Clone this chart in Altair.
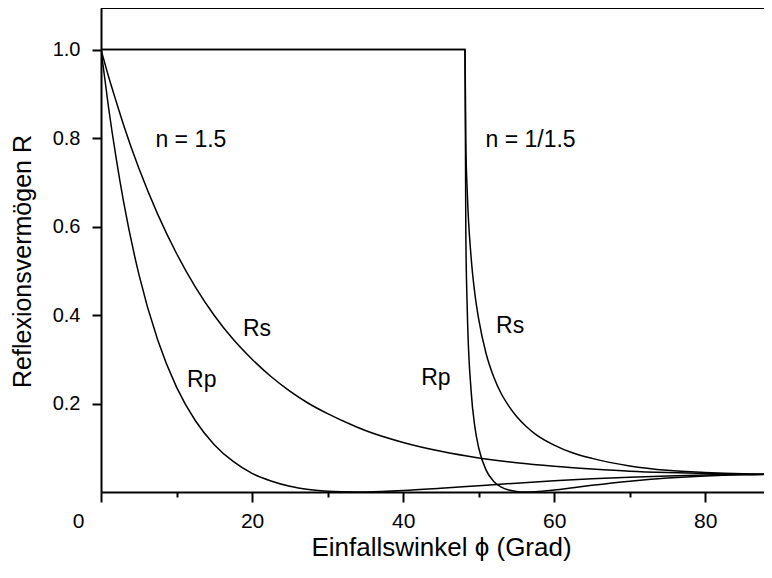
import altair as alt
import pandas as pd

# Angle axis values (degrees) and reflectance values
ext_x = [0, 1, 2, 3, 5, 7.5, 10, 12.5, 15, 17.5, 20, 22.5, 25, 27.5, 30, 33.7,
         35, 40, 45, 50, 55, 60, 65, 70, 75, 80, 85, 90]
ext_rs = [1.0, 0.939, 0.883, 0.829, 0.732, 0.628, 0.539, 0.463, 0.399, 0.345,
          0.300, 0.261, 0.228, 0.200, 0.177, 0.148, 0.139, 0.112, 0.092, 0.077,
          0.066, 0.058, 0.052, 0.047, 0.044, 0.042, 0.040, 0.040]
ext_rp = [1.0, 0.869, 0.755, 0.655, 0.493, 0.344, 0.237, 0.161, 0.107, 0.069,
          0.042, 0.025, 0.013, 0.0058, 0.0018, 0.0, 0.0002, 0.0033, 0.0085,
          0.0143, 0.0200, 0.0252, 0.0297, 0.0335, 0.0363, 0.0384, 0.0396, 0.040]

int_x = [0, 48.19, 48.3, 48.5, 49, 49.5, 50, 51, 52, 53, 54, 55, 56.3, 57.5,
         60, 62.5, 65, 70, 75, 80, 85, 90]
int_rs = [1.0, 1.0, 0.791, 0.675, 0.531, 0.448, 0.391, 0.312, 0.260, 0.222,
          0.194, 0.171, 0.148, 0.131, 0.106, 0.088, 0.076, 0.059, 0.049, 0.044,
          0.041, 0.040]
int_rp = [1.0, 1.0, 0.588, 0.408, 0.229, 0.147, 0.100, 0.049, 0.024, 0.011,
          0.0045, 0.0012, 0.0, 0.0007, 0.0046, 0.0098, 0.0151, 0.0244, 0.0314,
          0.0363, 0.0391, 0.040]

ann_text = ["n = 1.5", "n = 1/1.5", "Rs", "Rp", "Rp", "Rs"]
ann_x = [7.2, 50.9, 18.8, 11.4, 42.4, 52.3]
ann_y = [0.780, 0.780, 0.352, 0.237, 0.242, 0.359]

x_ticks = [0, 10, 20, 30, 40, 50, 60, 70, 80]
y_ticks = [0.2, 0.4, 0.6, 0.8, 1.0]
X_MAX = 87.78
Y_MAX = 1.0938

rows = []
for name, xs, ys in [("ext_Rs", ext_x, ext_rs), ("ext_Rp", ext_x, ext_rp),
                     ("int_Rs", int_x, int_rs), ("int_Rp", int_x, int_rp)]:
    for xv, yv in zip(xs, ys):
        rows.append({"series": name, "x": xv, "y": yv})
df = pd.DataFrame(rows)
ann = pd.DataFrame({"text": ann_text, "x": ann_x, "y": ann_y})

FONT = "Liberation Sans"

xscale = alt.Scale(domain=[0, X_MAX], nice=False, zero=False)
yscale = alt.Scale(domain=[0, Y_MAX], nice=False, zero=False)

xaxis = alt.Axis(
    values=x_ticks,
    labelExpr="datum.value % 20 == 0 ? datum.label : ''",
    tickSize={"condition": {"test": "datum.value % 20 != 0", "value": 5}, "value": 10},
    labelOffset={"condition": {"test": "datum.value == 0", "value": -23}, "value": 0},
    grid=False,
    domainColor="black", domainWidth=2,
    tickColor="black", tickWidth=2,
    labelColor="black", labelFont=FONT, labelFontSize=21,
    labelPadding=8, labelFlush=False,
    title="Einfallswinkel \u03d5 (Grad)",
    titleFont=FONT, titleFontSize=26, titleFontWeight="normal", titleColor="black",
    titleX=340, titleY=63, titleBaseline="alphabetic",
)
yaxis = alt.Axis(
    values=y_ticks, format=".1f",
    grid=False,
    domainColor="black", domainWidth=2,
    tickColor="black", tickWidth=2, tickSize=9,
    labelColor="black", labelFont=FONT, labelFontSize=20,
    labelPadding=12, labelFlush=False,
    title="Reflexionsverm\u00f6gen  R",
    titleFont=FONT, titleFontSize=25, titleFontWeight="normal", titleColor="black",
    titleX=-71, titleY=253, titleBaseline="alphabetic", titleAngle=270,
)

lines = alt.Chart(df).mark_line(color="black", strokeWidth=1.5, clip=True,
                                interpolate="monotone").encode(
    x=alt.X("x:Q", scale=xscale, axis=xaxis),
    y=alt.Y("y:Q", scale=yscale, axis=yaxis),
    detail="series:N",
    order="x:Q",
)

texts = alt.Chart(ann).mark_text(align="left", baseline="alphabetic",
                                 font=FONT, fontSize=23, color="black").encode(
    x=alt.X("x:Q", scale=xscale),
    y=alt.Y("y:Q", scale=yscale),
    text="text:N",
)

top = alt.Chart(pd.DataFrame({"a": [0]})).mark_rule(color="black", strokeWidth=2).encode(
    x=alt.datum(0, scale=xscale),
    x2=alt.datum(X_MAX),
    y=alt.datum(Y_MAX, scale=yscale),
)

chart = alt.layer(lines, texts, top).properties(
    width=663, height=484,
    autosize=alt.AutoSizeParams(type="none"),
    padding={"left": 93, "top": 0, "right": 0, "bottom": 72},
).configure(background="white").configure_view(stroke=None)

chart.save("out.html", embed_options={"renderer": "svg", "actions": False})
